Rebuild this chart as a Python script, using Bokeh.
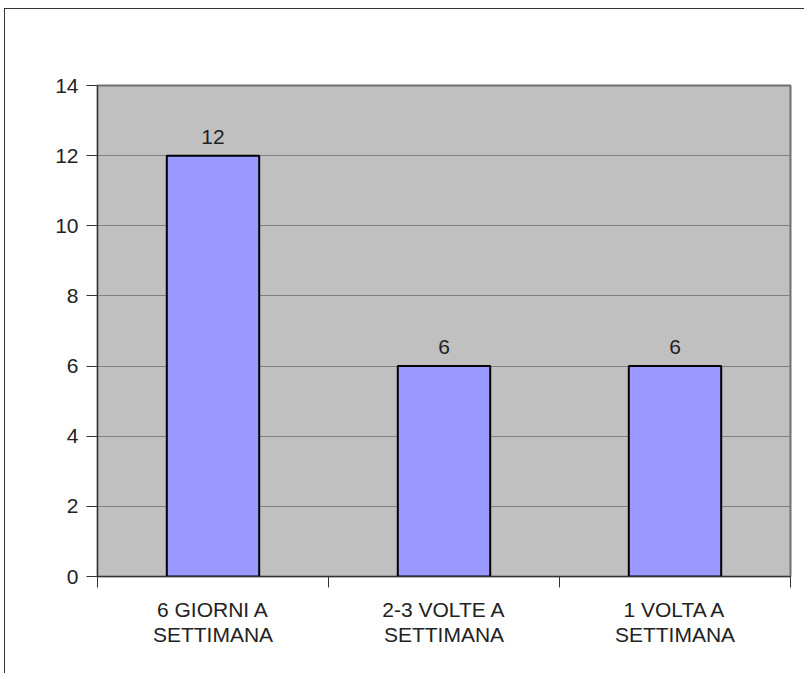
from bokeh.plotting import figure
from bokeh.models import ColumnDataSource, FixedTicker, Range1d
from bokeh.core.properties import value
from bokeh.embed import file_html
from bokeh.resources import INLINE

categories = ["6 GIORNI A\nSETTIMANA", "2-3 VOLTE A\nSETTIMANA", "1 VOLTA A\nSETTIMANA"]
counts = [12, 6, 6]
y_ticks = [0, 2, 4, 6, 8, 10, 12, 14]

FONT = "Liberation Sans"
FS = "21px"
xpos = [i + 0.5 for i in range(len(categories))]

p = figure(width=800, height=665, output_backend="svg", toolbar_location=None,
           x_range=Range1d(0, len(categories)), y_range=Range1d(0, 14),
           min_border_left=92, min_border_top=76, min_border_right=15, min_border_bottom=98)
p.styles = {"border-left": "1px solid #333333", "border-top": "1px solid #333333",
            "margin-left": "4px", "margin-top": "8px"}
p.background_fill_color = "#C0C0C0"
p.border_fill_color = "white"
p.outline_line_color = "#707070"
p.outline_line_width = 2

src = ColumnDataSource(dict(x=xpos, top=counts, lab=[str(c) for c in counts]))
p.vbar(x="x", top="top", bottom=0, width=0.4, source=src,
       fill_color="#9999FF", line_color="black", line_width=2)
p.text(x="x", y="top", text="lab", source=src, text_align="center", text_baseline="bottom",
       y_offset=-12, text_font=value(FONT), text_font_size=FS, text_color="#222222")

# y axis
p.yaxis.ticker = FixedTicker(ticks=y_ticks)
p.yaxis.major_tick_out = 11
p.yaxis.major_tick_in = 0
p.yaxis.minor_tick_out = 0
p.yaxis.minor_tick_in = 0
p.yaxis.axis_line_color = "#333333"
p.yaxis.major_tick_line_color = "#333333"
p.yaxis.major_label_text_font = FONT
p.yaxis.major_label_text_font_size = FS
p.yaxis.major_label_text_color = "#222222"
p.yaxis.major_label_standoff = 8

# x axis
p.xaxis.ticker = FixedTicker(ticks=xpos, minor_ticks=list(range(len(categories) + 1)))
p.xaxis.major_label_overrides = {x: c for x, c in zip(xpos, categories)}
p.xaxis.major_tick_out = 0
p.xaxis.major_tick_in = 0
p.xaxis.minor_tick_out = 11
p.xaxis.minor_tick_in = 0
p.xaxis.axis_line_color = "#333333"
p.xaxis.minor_tick_line_color = "#333333"
p.xaxis.major_label_text_font = FONT
p.xaxis.major_label_text_font_size = FS
p.xaxis.major_label_text_color = "#222222"
p.xaxis.major_label_text_line_height = 1.1
p.xaxis.major_label_standoff = 10

p.xgrid.grid_line_color = None
p.ygrid.ticker = FixedTicker(ticks=y_ticks)
p.ygrid.grid_line_color = "#808080"
p.ygrid.grid_line_width = 1

open("out.html", "w").write(file_html(p, INLINE))
